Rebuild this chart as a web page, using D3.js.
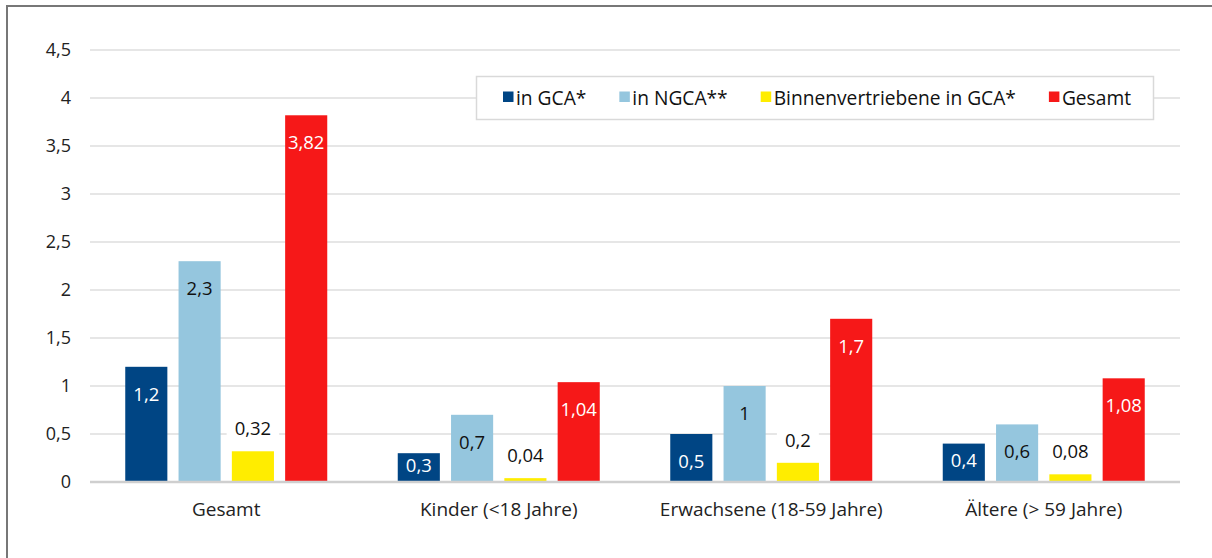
<!DOCTYPE html>
<html>
<head>
<meta charset="utf-8">
<script src="https://cdn.jsdelivr.net/npm/d3@7"></script>
<style>
  html, body { margin: 0; padding: 0; background: #fff; }
  svg { display: block; font-family: "Open Sans", "Noto Sans", sans-serif; }
</style>
</head>
<body>
<svg id="chart" width="1212" height="558"></svg>
<script>
const categories = ["Gesamt", "Kinder (<18 Jahre)", "Erwachsene (18-59 Jahre)", "Ältere (> 59 Jahre)"];
const seriesNames = ["in GCA*", "in NGCA**", "Binnenvertriebene in GCA*", "Gesamt"];
const inGCA = [1.2, 0.3, 0.5, 0.4];
const inNGCA = [2.3, 0.7, 1.0, 0.6];
const binnen = [0.32, 0.04, 0.2, 0.08];
const gesamt = [3.82, 1.04, 1.7, 1.08];
const yTicks = [0, 0.5, 1, 1.5, 2, 2.5, 3, 3.5, 4, 4.5];

const colors = ["#004584", "#95c6de", "#ffed00", "#f61818"];
const labelColors = ["#ffffff", "#111111", "#111111", "#ffffff"];
const series = [inGCA, inNGCA, binnen, gesamt];

const fmt = v => String(v).replace(".", ",");

const svg = d3.select("#chart");
const W = 1212, H = 558;
const GROUP = 202;

// frame
svg.append("line").attr("x1", 6).attr("x2", W).attr("y1", 6).attr("y2", 6)
  .attr("stroke", "#777").attr("stroke-width", 2);
svg.append("line").attr("x1", 7).attr("x2", 7).attr("y1", 5).attr("y2", H)
  .attr("stroke", "#777").attr("stroke-width", 2);

const x0 = d3.scaleBand().domain(categories).range([90, 1180]).paddingInner(0).paddingOuter(0);
const x1 = d3.scaleBand().domain(d3.range(4)).range([0, GROUP]).paddingInner(0.21).paddingOuter(0);
const y = d3.scaleLinear().domain([0, 4.5]).range([482, 50]);

// gridlines
svg.append("g").selectAll("line").data(yTicks.filter(t => t > 0)).join("line")
  .attr("x1", 90).attr("x2", 1180)
  .attr("y1", d => y(d)).attr("y2", d => y(d))
  .attr("stroke", "#dedede").attr("stroke-width", 1.5);

// y axis labels
const yAxis = d3.axisLeft(y).tickValues(yTicks).tickSize(0).tickPadding(0).tickFormat(fmt);
const yg = svg.append("g").attr("transform", "translate(71,0)").call(yAxis);
yg.select(".domain").remove();
yg.selectAll("text").attr("font-size", 18).attr("fill", "#222")
  .attr("font-family", "'Open Sans', sans-serif");

// bars
const groups = svg.append("g").selectAll("g").data(categories).join("g")
  .attr("transform", d => `translate(${x0(d) + (x0.bandwidth() - GROUP) / 2},0)`);

groups.each(function(cat, ci) {
  const g = d3.select(this);
  series.forEach((s, si) => {
    const v = s[ci];
    const bx = x1(si), bw = x1.bandwidth();
    const top = y(v), bottom = y(0);
    g.append("rect").attr("x", bx).attr("y", top).attr("width", bw).attr("height", bottom - top)
      .attr("fill", colors[si]);
    let cy;
    if (si === 2) {
      cy = top - 23.7;
      const t = g.append("text").attr("x", bx + bw / 2).attr("y", cy)
        .attr("text-anchor", "middle").attr("dominant-baseline", "central")
        .attr("font-size", 18.5).attr("fill", labelColors[si]).text(fmt(v));
      const tw = t.node().getComputedTextLength();
      g.insert("rect", "text:last-of-type")
        .attr("x", bx + bw / 2 - tw / 2 - 8).attr("y", cy - 13)
        .attr("width", tw + 16).attr("height", 26).attr("fill", "#fff");
      t.raise();
    } else {
      const h = bottom - top;
      cy = h > 46 ? top + 26.5 : (top + bottom) / 2 - 3.5;
      g.append("text").attr("x", bx + bw / 2).attr("y", cy)
        .attr("text-anchor", "middle").attr("dominant-baseline", "central")
        .attr("font-size", 18.5).attr("fill", labelColors[si]).text(fmt(v));
    }
  });
});

// zero line
svg.append("line").attr("x1", 90).attr("x2", 1180).attr("y1", y(0)).attr("y2", y(0))
  .attr("stroke", "#cfcfcf").attr("stroke-width", 2.5);

// x axis labels
const xAxis = d3.axisBottom(x0).tickSize(0).tickPadding(0);
const xg = svg.append("g").attr("transform", `translate(0,${y(0)})`).call(xAxis);
xg.select(".domain").remove();
xg.selectAll("text").attr("font-size", 19).attr("fill", "#222").attr("dy", null)
  .attr("y", 34).attr("font-family", "'Open Sans', sans-serif");

// legend
const lg = svg.append("g");
lg.append("rect").attr("x", 476.5).attr("y", 76.5).attr("width", 677).attr("height", 43)
  .attr("fill", "#fff").attr("stroke", "#d9d9d9").attr("stroke-width", 1.5);
let lx = 503;
seriesNames.forEach((name, i) => {
  lg.append("rect").attr("x", lx).attr("y", 91.5).attr("width", 10.5).attr("height", 10.5).attr("fill", colors[i]);
  const t = lg.append("text").attr("x", lx + 13).attr("y", 104.5).attr("font-size", 19.2)
    .attr("fill", "#111").text(name);
  lx += 13 + t.node().getComputedTextLength() + 33;
});
</script>
</body>
</html>
